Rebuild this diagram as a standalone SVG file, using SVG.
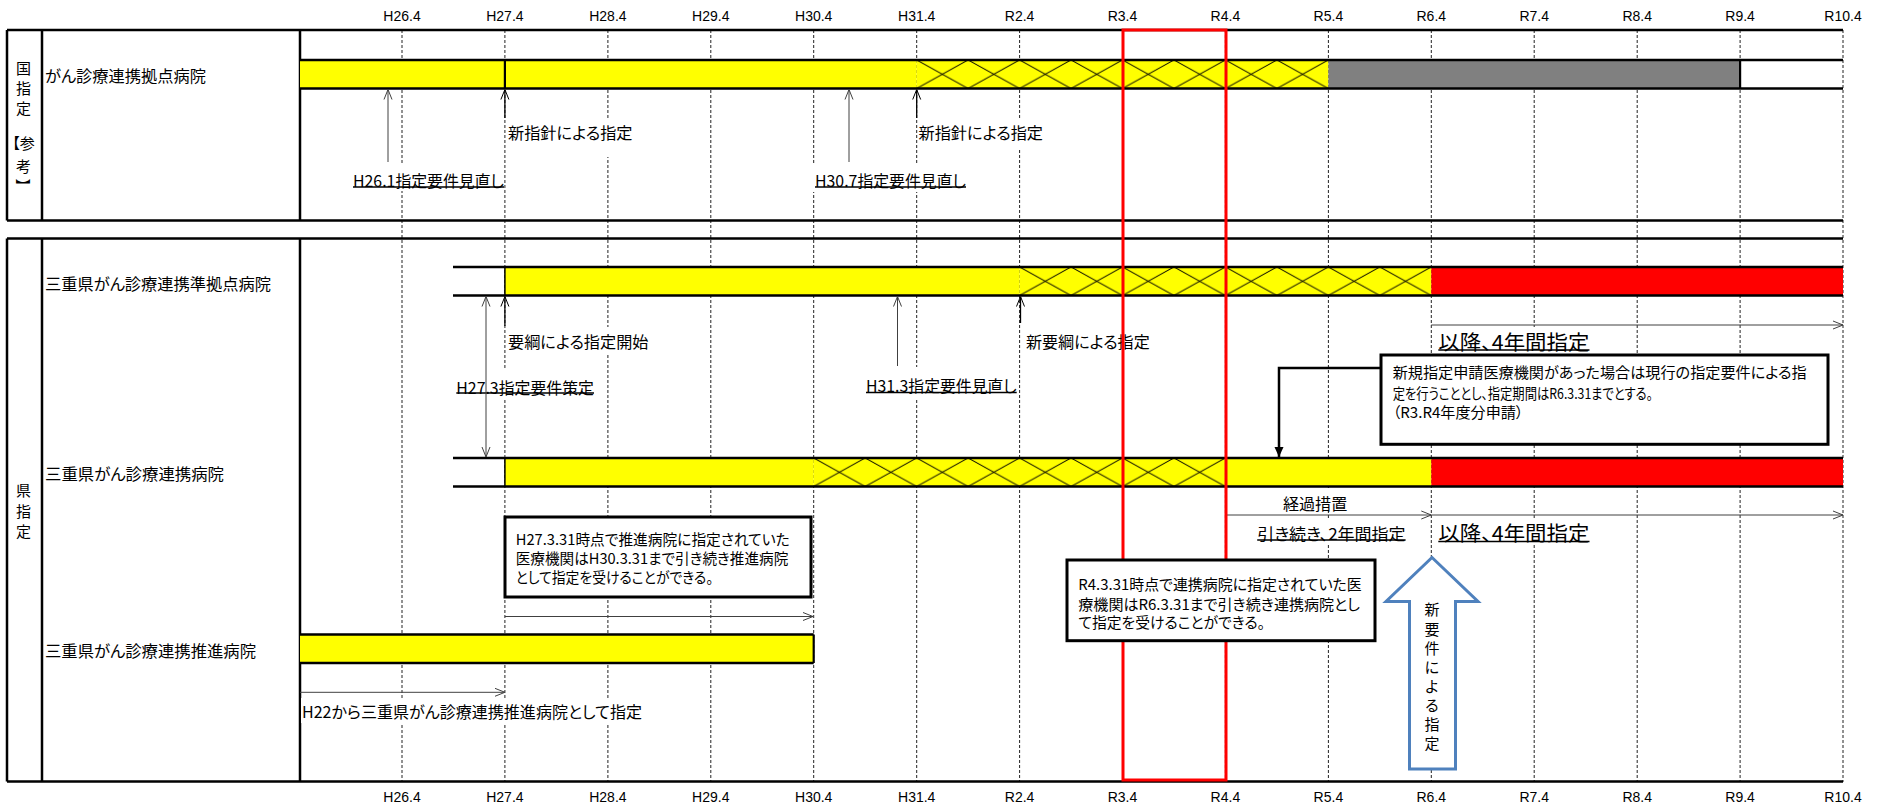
<svg xmlns="http://www.w3.org/2000/svg" width="1881" height="809" viewBox="0 0 1881 809">
<style>
.ax{font-family:"Liberation Sans",Arial,sans-serif;font-size:14px;fill:#000;text-anchor:middle;dominant-baseline:central}
.j{font-family:"Noto Sans CJK JP",sans-serif;font-size:16px;font-feature-settings:"palt" 1;dominant-baseline:central;fill:#000}
.s15{font-size:15px}
.s20{font-size:20px}
.s13{font-size:13px}
.v{font-family:"Noto Sans CJK JP",sans-serif;font-size:15px;text-anchor:middle;dominant-baseline:central;fill:#000}
.grid{stroke:#222;stroke-width:1;stroke-dasharray:3 2;fill:none}
.bd{stroke:#000;stroke-width:2.5;fill:none}
.bl{stroke:#000;stroke-width:2.5}
.arr{stroke:#404040;stroke-width:1;fill:none;marker-end:url(#oa)}
.arrk{stroke:#000;stroke-width:1.3;fill:none;marker-end:url(#oak)}
.ul{stroke:#000;stroke-width:1.5}
.bg{fill:#fff}
.box{fill:#fff;stroke:#000;stroke-width:3}
.yel{fill:#FFFF00}
.red{fill:#FF0000}
</style>
<defs>
<marker id="oa" viewBox="0 0 10 10" refX="10" refY="5" markerWidth="10" markerHeight="10" markerUnits="userSpaceOnUse" orient="auto-start-reverse"><path d="M0,1 L10,5 L0,9" fill="none" stroke="#404040" stroke-width="1"/></marker>
<marker id="oak" viewBox="0 0 10 10" refX="10" refY="5" markerWidth="10" markerHeight="10" markerUnits="userSpaceOnUse" orient="auto-start-reverse"><path d="M0,1 L10,5 L0,9" fill="none" stroke="#000" stroke-width="1"/></marker>
<marker id="fa" viewBox="0 0 10 10" refX="10" refY="5" markerWidth="10" markerHeight="10" markerUnits="userSpaceOnUse" orient="auto"><path d="M0,0.5 L10,5 L0,9.5 Z" fill="#000"/></marker>
<pattern id="hA" patternUnits="userSpaceOnUse" x="402" y="60" width="51.464" height="28.5"><rect width="51.464" height="28.5" fill="#FFFF00"/><path d="M0,0L51.464,28.5M0,28.5L51.464,0" stroke="#000" stroke-width="1"/></pattern>
<pattern id="hB" patternUnits="userSpaceOnUse" x="402" y="267" width="51.464" height="28.5"><rect width="51.464" height="28.5" fill="#FFFF00"/><path d="M0,0L51.464,28.5M0,28.5L51.464,0" stroke="#000" stroke-width="1"/></pattern>
<pattern id="hC" patternUnits="userSpaceOnUse" x="402" y="458" width="51.464" height="28.5"><rect width="51.464" height="28.5" fill="#FFFF00"/><path d="M0,0L51.464,28.5M0,28.5L51.464,0" stroke="#000" stroke-width="1"/></pattern>
</defs>
<rect width="1881" height="809" fill="#fff"/>

<g id="axis-top">
<text class="ax" x="402" y="16">H26.4</text><text class="ax" x="504.9" y="16">H27.4</text><text class="ax" x="607.9" y="16">H28.4</text><text class="ax" x="710.8" y="16">H29.4</text><text class="ax" x="813.7" y="16">H30.4</text><text class="ax" x="916.7" y="16">H31.4</text><text class="ax" x="1019.6" y="16">R2.4</text><text class="ax" x="1122.5" y="16">R3.4</text><text class="ax" x="1225.4" y="16">R4.4</text><text class="ax" x="1328.4" y="16">R5.4</text><text class="ax" x="1431.3" y="16">R6.4</text><text class="ax" x="1534.2" y="16">R7.4</text><text class="ax" x="1637.2" y="16">R8.4</text><text class="ax" x="1740.1" y="16">R9.4</text><text class="ax" x="1843" y="16">R10.4</text>
</g>
<g id="axis-bottom">
<text class="ax" x="402" y="797">H26.4</text><text class="ax" x="504.9" y="797">H27.4</text><text class="ax" x="607.9" y="797">H28.4</text><text class="ax" x="710.8" y="797">H29.4</text><text class="ax" x="813.7" y="797">H30.4</text><text class="ax" x="916.7" y="797">H31.4</text><text class="ax" x="1019.6" y="797">R2.4</text><text class="ax" x="1122.5" y="797">R3.4</text><text class="ax" x="1225.4" y="797">R4.4</text><text class="ax" x="1328.4" y="797">R5.4</text><text class="ax" x="1431.3" y="797">R6.4</text><text class="ax" x="1534.2" y="797">R7.4</text><text class="ax" x="1637.2" y="797">R8.4</text><text class="ax" x="1740.1" y="797">R9.4</text><text class="ax" x="1843" y="797">R10.4</text>
</g>

<g id="grid">
<path class="grid" d="M402,30V782M504.9,30V782M607.9,30V782M710.8,30V782M813.7,30V782M916.7,30V782M1019.6,30V782M1122.5,30V782M1225.4,30V782M1328.4,30V782M1431.3,30V782M1534.2,30V782M1637.2,30V782M1740.1,30V782M1843,30V782"/>
</g>

<g id="table">
<path class="bd" d="M7,30H1843M7,220.5H1843M7,30V220.5M42,30V220.5M300,30V220.5"/>
<path class="bd" d="M7,238.5H1843M7,781.5H1843M7,238.5V781.5M42,238.5V781.5M300,238.5V781.5"/>
</g>

<g id="side-labels">
<text class="v" x="23.5" y="67">国</text>
<text class="v" x="23.5" y="87">指</text>
<text class="v" x="23.5" y="107">定</text>
<text class="v" x="23.5" y="142" font-size="14" style="font-feature-settings:'palt' 1">【参</text>
<text class="v" x="23.5" y="165">考</text>
<text class="v" x="23.5" y="186" transform="rotate(90 23.5 186)">】</text>
<text class="v" x="23.5" y="489">県</text>
<text class="v" x="23.5" y="510">指</text>
<text class="v" x="23.5" y="530">定</text>
</g>

<g id="row-kyoten">
<text class="j" x="45" y="75" textLength="161" lengthAdjust="spacingAndGlyphs">がん診療連携拠点病院</text>
<rect class="yel" x="300" y="60" width="616.7" height="28.5"/>
<rect x="916.7" y="60" width="411.7" height="28.5" fill="url(#hA)"/>
<rect x="1328.4" y="60" width="411.7" height="28.5" fill="#808080"/>
<path class="bl" d="M300,60H1843M300,88.5H1843"/>
<path stroke="#000" stroke-width="2.2" d="M504.9,60V88.5M1740.1,60V88.5"/>
</g>

<g id="row-junkyoten">
<text class="j" x="45" y="283" textLength="226" lengthAdjust="spacingAndGlyphs">三重県がん診療連携準拠点病院</text>
<rect class="yel" x="504.9" y="267" width="514.7" height="28.5"/>
<rect x="1019.6" y="267" width="411.7" height="28.5" fill="url(#hB)"/>
<rect class="red" x="1431.3" y="267" width="411.7" height="28.5"/>
<path class="bl" d="M453,267H1843M453,295.5H1843"/>
<path stroke="#000" stroke-width="1.5" d="M504.9,267V295.5"/>
</g>

<g id="row-renkei">
<text class="j" x="45" y="473" textLength="179" lengthAdjust="spacingAndGlyphs">三重県がん診療連携病院</text>
<rect class="yel" x="504.9" y="458" width="308.8" height="28.5"/>
<rect x="813.7" y="458" width="411.7" height="28.5" fill="url(#hC)"/>
<rect class="yel" x="1225.4" y="458" width="205.9" height="28.5"/>
<rect class="red" x="1431.3" y="458" width="411.7" height="28.5"/>
<path class="bl" d="M453,458H1843M453,486.5H1843"/>
<path stroke="#000" stroke-width="1.5" d="M504.9,458V486.5"/>
</g>

<g id="row-suishin">
<text class="j" x="45" y="650" textLength="211" lengthAdjust="spacingAndGlyphs">三重県がん診療連携推進病院</text>
<rect class="yel" x="300" y="634.5" width="513.7" height="28.5"/>
<path class="bl" d="M300,634.5H813.7M300,663H813.7"/>
<path stroke="#000" stroke-width="2.2" d="M813.7,634.5V663"/>
</g>

<g id="labels">
<rect class="bg" x="350" y="164" width="153" height="27"/>
<text class="j" x="353" y="180" textLength="151" lengthAdjust="spacingAndGlyphs">H26.1指定要件見直し</text>
<line class="ul" x1="353" y1="187" x2="504" y2="187"/>
<rect class="bg" x="507" y="119" width="135" height="38"/>
<text class="j" x="508" y="132" textLength="124.5" lengthAdjust="spacingAndGlyphs">新指針による指定</text>
<rect class="bg" x="812" y="164" width="158" height="28"/>
<text class="j" x="815" y="180" textLength="151" lengthAdjust="spacingAndGlyphs">H30.7指定要件見直し</text>
<line class="ul" x1="815" y1="187" x2="966" y2="187"/>
<rect class="bg" x="919" y="119" width="128" height="29"/>
<text class="j" x="918.5" y="132" textLength="124.5" lengthAdjust="spacingAndGlyphs">新指針による指定</text>

<rect class="bg" x="507" y="327" width="144" height="28"/>
<text class="j" x="508" y="341" textLength="140.4" lengthAdjust="spacingAndGlyphs">要綱による指定開始</text>
<rect class="bg" x="454" y="368" width="142" height="30"/>
<text class="j" x="456.3" y="386.5" textLength="137.6" lengthAdjust="spacingAndGlyphs">H27.3指定要件策定</text>
<line class="ul" x1="456.3" y1="393" x2="594" y2="393"/>
<rect class="bg" x="864" y="367" width="155" height="31"/>
<text class="j" x="866" y="385" textLength="150.7" lengthAdjust="spacingAndGlyphs">H31.3指定要件見直し</text>
<line class="ul" x1="866" y1="392.5" x2="1016.7" y2="392.5"/>
<rect class="bg" x="1024" y="328" width="128" height="27"/>
<text class="j" x="1026" y="341" textLength="123.7" lengthAdjust="spacingAndGlyphs">新要綱による指定</text>
<rect class="bg" x="1436" y="327" width="158" height="26"/>
<text class="j s20" x="1438.3" y="341" textLength="151" lengthAdjust="spacingAndGlyphs">以降、4年間指定</text>
<line class="ul" x1="1438.3" y1="350" x2="1589.5" y2="350"/>

<rect class="bg" x="1281" y="489" width="68" height="22"/>
<text class="j" x="1283" y="503" textLength="64.2" lengthAdjust="spacingAndGlyphs">経過措置</text>
<rect class="bg" x="1255" y="519" width="152" height="26"/>
<text class="j" x="1257.2" y="532.7" textLength="148.4" lengthAdjust="spacingAndGlyphs">引き続き、2年間指定</text>
<line class="ul" x1="1257.2" y1="540" x2="1405.6" y2="540"/>
<rect class="bg" x="1436" y="519" width="158" height="26"/>
<text class="j s20" x="1438.3" y="532.7" textLength="151" lengthAdjust="spacingAndGlyphs">以降、4年間指定</text>
<line class="ul" x1="1438.3" y1="541.5" x2="1589.5" y2="541.5"/>

<rect class="bg" x="301" y="698" width="345" height="25"/>
<text class="j" x="302" y="710.7" textLength="340" lengthAdjust="spacingAndGlyphs">H22から三重県がん診療連携推進病院として指定</text>
</g>

<g id="connectors">
<line class="arr" x1="388" y1="162" x2="388" y2="89.5"/>
<line class="arrk" x1="504.9" y1="118" x2="504.9" y2="89.5"/>
<line class="arr" x1="849" y1="162" x2="849" y2="89.5"/>
<line class="arrk" x1="916.7" y1="118" x2="916.7" y2="89.5"/>
<line class="arr" x1="486" y1="296.5" x2="486" y2="457" marker-start="url(#oa)"/>
<line class="arrk" x1="504.9" y1="326" x2="504.9" y2="296.5"/>
<line class="arr" x1="897.5" y1="366" x2="897.5" y2="296.5"/>
<line class="arrk" x1="1020.5" y1="323" x2="1020.5" y2="296.5"/>
<line class="arr" x1="1431.3" y1="325" x2="1843" y2="325"/>
<path d="M1381,368H1279V457" fill="none" stroke="#000" stroke-width="2.5" marker-end="url(#fa)"/>
<line class="arr" x1="1225.4" y1="515" x2="1431.3" y2="515"/>
<line class="arr" x1="1431.3" y1="515" x2="1843" y2="515"/>
<line class="arr" x1="504.9" y1="616.5" x2="813" y2="616.5"/>
<line class="arr" x1="300" y1="692.3" x2="504.9" y2="692.3"/>
</g>

<rect id="highlight" x="1123" y="30" width="103" height="750" fill="none" stroke="#FF0000" stroke-width="3"/>

<g id="note-new">
<rect class="box" x="1381" y="355" width="447" height="89.3"/>
<text class="j s15" x="1392.7" y="371.7" textLength="414" lengthAdjust="spacingAndGlyphs">新規指定申請医療機関があった場合は現行の指定要件による指</text>
<text class="j s15" x="1392.7" y="392.3" textLength="260" lengthAdjust="spacingAndGlyphs">定を行うこととし、指定期間はR6.3.31までとする。</text>
<text class="j s15" x="1392.7" y="411.7" textLength="130.7" lengthAdjust="spacingAndGlyphs">（R3.R4年度分申請）</text>
</g>

<g id="note-suishin">
<rect class="box" x="505" y="517" width="306" height="80"/>
<text class="j s15" x="515.7" y="538.3" textLength="274" lengthAdjust="spacingAndGlyphs">H27.3.31時点で推進病院に指定されていた</text>
<text class="j s15" x="515.7" y="557.7" textLength="272.6" lengthAdjust="spacingAndGlyphs">医療機関はH30.3.31まで引き続き推進病院</text>
<text class="j s15" x="515.7" y="576.7" textLength="197.6" lengthAdjust="spacingAndGlyphs">として指定を受けることができる。</text>
</g>

<g id="note-renkei">
<rect class="box" x="1067" y="560" width="308" height="80.7"/>
<text class="j s15" x="1078.3" y="583.3" textLength="283.4" lengthAdjust="spacingAndGlyphs">R4.3.31時点で連携病院に指定されていた医</text>
<text class="j s15" x="1078.3" y="603.3" textLength="281.7" lengthAdjust="spacingAndGlyphs">療機関はR6.3.31まで引き続き連携病院とし</text>
<text class="j s15" x="1078.3" y="621.7" textLength="186.7" lengthAdjust="spacingAndGlyphs">て指定を受けることができる。</text>
</g>

<g id="new-req-arrow">
<polygon points="1432,557.5 1478,601.5 1455.5,601.5 1455.5,769 1409.5,769 1409.5,601.5 1386,601.5" fill="#fff" stroke="#4F81BD" stroke-width="3"/>
<text class="v s13" x="1432" y="608.5">新</text>
<text class="v s13" x="1432" y="628">要</text>
<text class="v s13" x="1432" y="647">件</text>
<text class="v s13" x="1432" y="666">に</text>
<text class="v s13" x="1432" y="685">よ</text>
<text class="v s13" x="1432" y="704">る</text>
<text class="v s13" x="1432" y="723">指</text>
<text class="v s13" x="1432" y="742">定</text>
</g>
</svg>
